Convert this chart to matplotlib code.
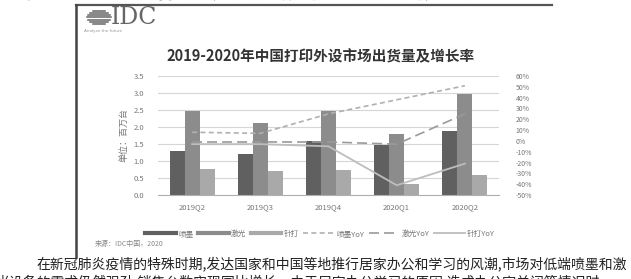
import numpy as np
import matplotlib

matplotlib.use("Agg")
import matplotlib.pyplot as plt
from matplotlib.lines import Line2D
from matplotlib.patches import Patch

plt.rcParams["font.family"] = ["Noto Sans CJK SC", "DejaVu Sans"]
plt.rcParams["axes.unicode_minus"] = False

# data
quarters = ["2019Q2", "2019Q3", "2019Q4", "2020Q1", "2020Q2"]
inkjet = [1.29, 1.20, 1.60, 1.46, 1.87]
laser = [2.48, 2.12, 2.48, 1.80, 2.97]
dotmatrix = [0.76, 0.71, 0.73, 0.32, 0.58]
inkjet_yoy = [8, 7, 25, 38, 51]
laser_yoy = [-1, -1, -1, -3, 25]
dotmatrix_yoy = [-3, -3, -5, -41, -21]
left_ticks = [0.0, 0.5, 1.0, 1.5, 2.0, 2.5, 3.0, 3.5]
right_ticks = [-50, -40, -30, -20, -10, 0, 10, 20, 30, 40, 50, 60]

W, H = 631, 279


def fx(x):
    return x / W


def fy(y):
    return 1 - y / H


fig = plt.figure(figsize=(W / 100, H / 100), dpi=100)

# page text cut at the top
fig.text(fx(0), fy(-4), "下降，一方面疫情期间企业复工推迟，对于打印设备的采购需求明显减弱，另一方面",
         fontsize=9.5, color="#333", va="center", ha="left")

# embedded picture frame
fig.add_artist(Line2D([fx(76), fx(552)], [fy(5), fy(5)], color="#555", lw=1.6))
fig.add_artist(Line2D([fx(76), fx(76)], [fy(5), fy(257)], color="#444", lw=1.8))

# IDC logo
for i, w in enumerate([8, 14, 18, 20, 18, 14, 8]):
    yy = 10.5 + i * 2.3
    fig.add_artist(Line2D([fx(99 - w / 2 - 2), fx(99 + w / 2 + 2)], [fy(yy), fy(yy)],
                          color="#666", lw=1.1))
fig.text(fx(111), fy(17), "IDC", family="DejaVu Serif", fontsize=17, color="#666",
         va="center", ha="left")
fig.text(fx(84), fy(31), "Analyze the future", family="DejaVu Sans", fontsize=3,
         color="#999", va="center", ha="left")

# title
fig.text(fx(321), fy(56), "2019-2020年中国打印外设市场出货量及增长率", fontsize=10.5,
         fontweight="bold", color="#333", ha="center", va="center")

ax = fig.add_axes([fx(158), fy(195), fx(499) - fx(158), fy(76) - fy(195)])
x = np.arange(len(quarters))
bw = 0.22
ax.bar(x - bw, inkjet, bw, color="#606060", zorder=2)
ax.bar(x, laser, bw, color="#8c8c8c", zorder=2)
ax.bar(x + bw, dotmatrix, bw, color="#a9a9a9", zorder=2)
ax.set_ylim(0, 3.5)
ax.set_xlim(-0.5, len(quarters) - 0.5)
ax.set_yticks(left_ticks)
ax.set_yticklabels([f"{v:.1f}" for v in left_ticks])
ax.set_xticks(x)
ax.set_xticklabels(quarters)
ax.grid(axis="y", color="#d6d6d6", lw=0.8, zorder=0)
ax.set_axisbelow(True)
for s in ["top", "left", "right"]:
    ax.spines[s].set_visible(False)
ax.spines["bottom"].set_color("#b0b0b0")
ax.tick_params(axis="both", length=0, labelsize=5.5, labelcolor="#777", pad=10)
ax.tick_params(axis="x", pad=6)
ax.set_ylabel("单位：百万台", fontsize=6.5, color="#777", labelpad=4)

ax2 = ax.twinx()
ax2.plot(x, inkjet_yoy, color="#b0b0b0", lw=1.2, ls=(0, (3, 2)), zorder=3)
ax2.plot(x, laser_yoy, color="#9a9a9a", lw=1.2, ls=(0, (6, 3)), zorder=3)
ax2.plot(x, dotmatrix_yoy, color="#bdbdbd", lw=1.3, ls="-", zorder=3)
ax2.set_ylim(-50, 60)
ax2.set_yticks(right_ticks)
ax2.set_yticklabels([f"{v}%" for v in right_ticks])
for s in ["top", "left", "right", "bottom"]:
    ax2.spines[s].set_visible(False)
ax2.tick_params(axis="y", length=0, labelsize=5, labelcolor="#777", pad=12)

handles = [
    Line2D([], [], color="#606060", lw=3),
    Line2D([], [], color="#8c8c8c", lw=3),
    Line2D([], [], color="#a9a9a9", lw=3),
    Line2D([], [], color="#b0b0b0", lw=1.2, ls=(0, (3, 2))),
    Line2D([], [], color="#9a9a9a", lw=1.2, ls=(0, (6, 3))),
    Line2D([], [], color="#bdbdbd", lw=1.3),
]
labels = ["喷墨", "激光", "针打", "喷墨YoY", "激光YoY", "针打YoY"]
fig.legend(handles, labels, loc="center", bbox_to_anchor=(fx(320), fy(234)), ncol=6,
           frameon=False, fontsize=5.5, handlelength=4, handletextpad=0.3,
           columnspacing=0.6, labelcolor="#777")

fig.text(fx(95), fy(244), "来源：IDC中国，2020", fontsize=5, color="#888", va="center")

# article text
fig.text(fx(36), fy(264),
         "在新冠肺炎疫情的特殊时期,发达国家和中国等地推行居家办公和学习的风潮,市场对低端喷墨和激",
         fontsize=10, color="#222", va="center", ha="left")
fig.text(fx(-4), fy(282),
         "光设备的需求仍然强劲,销售台数实现同比增长。由于居家办公学习的原因,造成办公室关闭等情况时",
         fontsize=10, color="#222", va="center", ha="left")

fig.savefig("out.png", dpi=100)
